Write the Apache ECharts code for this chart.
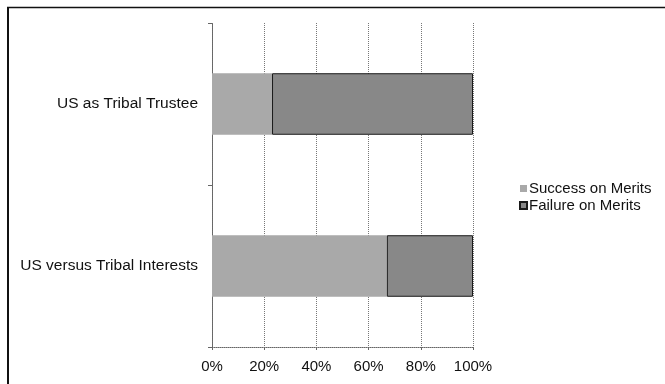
<!DOCTYPE html>
<html><head><meta charset="utf-8">
<script src="https://cdn.jsdelivr.net/npm/echarts@6/dist/echarts.min.js"></script>
<style>html,body{margin:0;padding:0;background:#fff}#c{width:665px;height:384px}</style>
</head><body><div id="c"></div>
<script>
const categories = ['US versus Tribal Interests', 'US as Tribal Trustee'];
const successOnMerits = [67, 23];
const failureOnMerits = [33, 77];
const xTicks = [0, 20, 40, 60, 80, 100];

const chart = echarts.init(document.getElementById('c'), null, {renderer: 'canvas'});
const font = 'Liberation Sans, Arial, sans-serif';
chart.setOption({
  animation: false,
  backgroundColor: '#fff',
  grid: {left: 212, right: 192, top: 23, bottom: 37},
  legend: {
    orient: 'vertical', left: 514, top: 176,
    itemWidth: 7, itemHeight: 7, itemGap: 2,
    icon: 'rect',
    textStyle: {fontFamily: font, fontSize: 15, color: '#111', padding: [0,0,0,-3]},
    data: ['Success on Merits', 'Failure on Merits']
  },
  xAxis: {
    type: 'value', min: xTicks[0], max: xTicks[xTicks.length-1], interval: 20,
    axisLine: {show: true, lineStyle: {color: '#666', type: [1,1]}},
    axisTick: {show: true, length: 3, lineStyle: {color: '#666'}},
    axisLabel: {fontFamily: font, fontSize: 15, color: '#111', margin: 12, formatter: v => v + '%'},
    splitLine: {show: true, lineStyle: {color: '#777', type: [1,1], width: 1}}
  },
  yAxis: {
    type: 'category', data: categories,
    axisLine: {show: true, lineStyle: {color: '#666', type: [1,1]}},
    axisTick: {show: true, length: 4, lineStyle: {color: '#666'}},
    axisLabel: {fontFamily: font, fontSize: 15.5, color: '#111', margin: 14}
  },
  series: [
    {name: 'Success on Merits', type: 'bar', stack: 'a', barWidth: '38%', data: successOnMerits,
     itemStyle: {color: '#a9a9a9'}},
    {name: 'Failure on Merits', type: 'bar', stack: 'a', barWidth: '38%', data: failureOnMerits,
     itemStyle: {color: '#888', borderColor: '#1a1a1a', borderWidth: 1}}
  ],
  graphic: [
    {type: 'line', shape: {x1: 7, y1: 7.5, x2: 665, y2: 7.5}, style: {stroke: '#111', lineWidth: 1.5}},
    {type: 'line', shape: {x1: 8, y1: 7, x2: 8, y2: 384}, style: {stroke: '#111', lineWidth: 2}}
  ]
});
</script></body></html>
